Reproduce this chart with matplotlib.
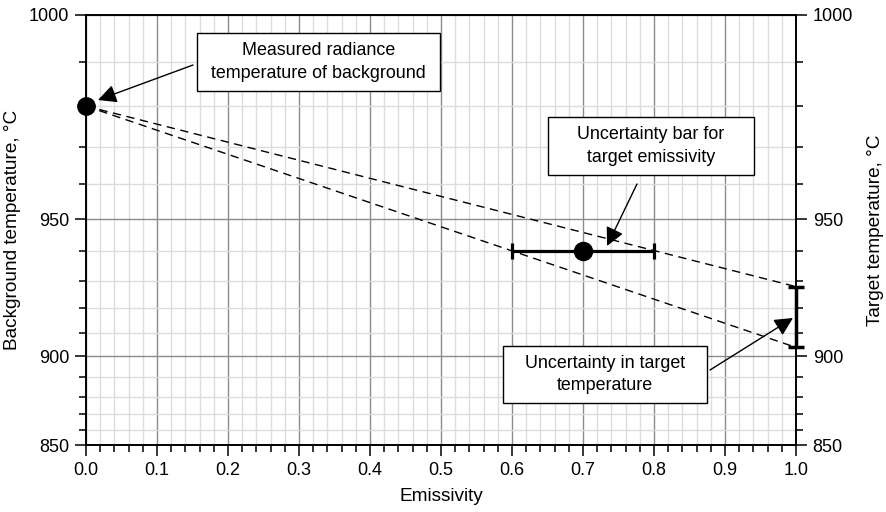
import numpy as np
import matplotlib
matplotlib.use('Agg')
import matplotlib.pyplot as plt
from matplotlib.patches import Rectangle
from matplotlib.ticker import MultipleLocator, FixedLocator

plt.rcParams['font.family'] = ['Liberation Sans', 'DejaVu Sans']
plt.rcParams['font.size'] = 12.9

# Data
bg_eps = [0.0]
bg_temp = [980]
target_eps = [0.7]
target_temp = [940]
target_eps_err = [0.1]
line_eps = [0.0, 1.0]
upper_line = [980, 928]
lower_line = [980, 904]
target_range_eps = [1.0]
target_range_mid = [916]
target_range_err = [12]
y_ticks = [850, 900, 950, 1000]
x_ticks = [0.0, 0.1, 0.2, 0.3, 0.4, 0.5, 0.6, 0.7, 0.8, 0.9, 1.0]

# y axis is linear in radiance at 1 um (Wien)
C2 = 14388.0
LAM = 1.0
T0 = 850 + 273.15


def fwd(t):
    t = np.asarray(t, dtype=float)
    with np.errstate(all='ignore'):
        return np.exp(C2 / (LAM * T0) - C2 / (LAM * (t + 273.15)))


def inv(r):
    r = np.asarray(r, dtype=float)
    with np.errstate(all='ignore'):
        return C2 / (LAM * (C2 / (LAM * T0) - np.log(r))) - 273.15


W, H = 887, 512
L, R, T, B = 86, 796, 15, 445
fig = plt.figure(figsize=(W / 100, H / 100), dpi=100)
ax = fig.add_axes([L / W, 1 - B / H, (R - L) / W, (B - T) / H])


def px(x, y):
    return ((x - L) / (R - L), (B - y) / (B - T))


ax.set_yscale('function', functions=(fwd, inv))
ax.set_xlim(0, 1)
ax.set_ylim(850, 1000)
ax.xaxis.set_major_locator(FixedLocator(x_ticks))
ax.xaxis.set_minor_locator(MultipleLocator(0.02))
ax.yaxis.set_major_locator(FixedLocator(y_ticks))
ax.yaxis.set_minor_locator(MultipleLocator(10))
ax.set_xticklabels([f'{v:.1f}' for v in x_ticks])
ax.set_yticklabels([str(v) for v in y_ticks])
ax.set_axisbelow(True)
ax.grid(which='major', color='#8c8c8c', lw=1.0)
ax.grid(which='minor', color='#dcdcdc', lw=1.0)
ax.tick_params(which='major', direction='out', length=8, width=1.1, pad=4, labelsize=13)
ax.tick_params(which='minor', direction='out', length=5, width=1.1)
for s in ax.spines.values():
    s.set_linewidth(1.2)

ax2 = ax.twinx()
ax2.set_yscale('function', functions=(fwd, inv))
ax2.set_ylim(850, 1000)
ax2.yaxis.set_major_locator(FixedLocator(y_ticks))
ax2.yaxis.set_minor_locator(MultipleLocator(10))
ax2.set_yticklabels([str(v) for v in y_ticks])
ax2.tick_params(which='major', direction='out', length=8, width=1.1, pad=4, labelsize=13)
ax2.tick_params(which='minor', direction='out', length=5, width=1.1)
for s in ax2.spines.values():
    s.set_linewidth(1.2)

ax.set_xlabel('Emissivity', labelpad=7, fontsize=13.7)
ax.set_ylabel('Background temperature, °C', labelpad=6, fontsize=13.7)
ax2.set_ylabel('Target temperature, °C', labelpad=10, fontsize=13.7)

# dashed lines
ax.plot(line_eps, upper_line, color='k', lw=1.0, ls=(0, (6, 4)), zorder=3)
ax.plot(line_eps, lower_line, color='k', lw=1.0, ls=(0, (6, 4)), zorder=3)

# background point
ax.plot(bg_eps, bg_temp, 'o', color='k', ms=12.5, clip_on=False, zorder=6)

# target emissivity error bar
ax.errorbar(target_eps, target_temp, xerr=target_eps_err, fmt='o', color='k',
            ms=13, elinewidth=2.3, capsize=5.5, capthick=2.3, zorder=6)

# target temperature uncertainty bar
ax.errorbar(target_range_eps, target_range_mid, yerr=target_range_err, fmt='none',
            ecolor='k', elinewidth=2.5, capsize=6, capthick=2.5, zorder=6)
for c in ax.collections + ax.lines:
    c.set_clip_on(False)

# annotation boxes
boxes = [
    ((197, 33, 440, 91), 'Measured radiance\ntemperature of background'),
    ((548, 117, 754, 175), 'Uncertainty bar for\ntarget emissivity'),
    ((503, 346, 707, 403), 'Uncertainty in target\ntemperature'),
]
for (x0, y0, x1, y1), txt in boxes:
    ax0, ay0 = px(x0, y1)
    ax1, ay1 = px(x1, y0)
    ax.add_patch(Rectangle((ax0, ay0), ax1 - ax0, ay1 - ay0, transform=ax.transAxes,
                           facecolor='white', edgecolor='k', lw=1.0, zorder=7,
                           clip_on=False))
    ax.text((ax0 + ax1) / 2, (ay0 + ay1) / 2, txt, transform=ax.transAxes,
            ha='center', va='center', linespacing=1.45, zorder=8)

arrows = [
    ((193, 65), (98, 100)),
    ((637, 184), (607, 246)),
    ((710, 370), (793, 318)),
]
for start, tip in arrows:
    ax.annotate('', xy=px(*tip), xytext=px(*start), xycoords='axes fraction',
                textcoords='axes fraction', annotation_clip=False, zorder=8,
                arrowprops=dict(arrowstyle='-|>,head_length=0.8,head_width=0.4',
                                mutation_scale=14, color='k', lw=1.0,
                                shrinkA=0, shrinkB=0))

fig.savefig('out.png', dpi=100)
